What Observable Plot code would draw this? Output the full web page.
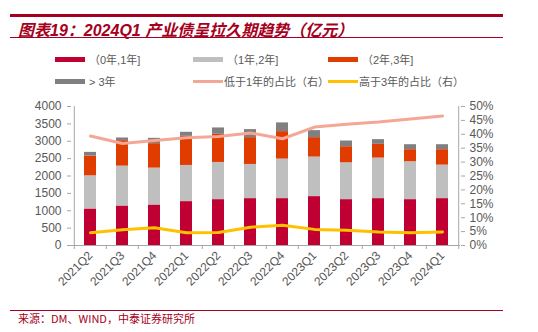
<!DOCTYPE html>
<html>
<head>
<meta charset="utf-8">
<script src="https://cdn.jsdelivr.net/npm/d3@7"></script>
<script src="https://cdn.jsdelivr.net/npm/@observablehq/plot@0.6"></script>
<style>
  html, body { margin: 0; padding: 0; background: #fff; }
  body { width: 538px; height: 332px; position: relative; overflow: hidden;
         font-family: "Liberation Sans", "Noto Sans CJK SC", sans-serif; }
  .rule-top { position: absolute; left: 10px; width: 493px; top: 14px; height: 3px; background: #A50021; }
  .title { position: absolute; left: 18px; top: 17px; font-size: 16px; font-weight: bold; font-style: italic;
           color: #A50021; font-family: "Liberation Sans", "Noto Sans CJK SC", sans-serif; white-space: nowrap; }
  .rule-mid { position: absolute; left: 10px; width: 493px; top: 37px; height: 1px; background: #A50021; }
  .leg { position: absolute; font-size: 11px; color: #595959; white-space: nowrap;
         font-family: "Liberation Sans", "Noto Sans CJK SC", sans-serif; }
  .sw { position: absolute; width: 30px; height: 5px; }
  .ln { position: absolute; width: 30px; height: 3px; }
  #chart { position: absolute; left: 0; top: 96px; }
  .rule-bot { position: absolute; left: 10px; width: 493px; top: 310px; height: 1px; background: #A50021; }
  .src { position: absolute; left: 18px; top: 310px; font-size: 11px; color: #A50021; white-space: nowrap;
         font-family: "Noto Sans CJK SC", sans-serif; }
</style>
</head>
<body>
<div class="rule-top"></div>
<div class="title">图表19：2024Q1 产业债呈拉久期趋势（亿元）</div>
<div class="rule-mid"></div>
<div id="legend"></div>
<div id="chart"></div>
<div class="rule-bot"></div>
<div class="src">来源：DM、WIND，中泰证券研究所</div>
<script>
const quarters = ["2021Q2","2021Q3","2021Q4","2022Q1","2022Q2","2022Q3","2022Q4","2023Q1","2023Q2","2023Q3","2023Q4","2024Q1"];
const seriesNames = ["（0年,1年]", "（1年,2年]", "（2年,3年]", "> 3年"];
const s0to1 = [1051, 1137, 1166, 1263, 1320, 1349, 1349, 1407, 1320, 1349, 1320, 1349];
const s1to2 = [954, 1147, 1061, 1041, 1070, 983, 1138, 1138, 1061, 1167, 1090, 964];
const s2to3 = [568, 733, 703, 838, 810, 772, 790, 559, 462, 395, 347, 444];
const sOver3 = [107, 77, 154, 116, 183, 231, 251, 202, 164, 135, 144, 144];
const lineNames = ["低于1年的占比（右）", "高于3年的占比（右）"];
const shareBelow1 = [39.4, 36.7, 37.8, 38.8, 39.2, 40.5, 38.4, 42.6, 43.6, 44.4, 45.5, 46.6];
const shareAbove3 = [4.6, 5.7, 6.4, 4.6, 4.7, 6.6, 7.3, 5.8, 5.5, 4.9, 4.6, 4.9];
const leftTicks = [0, 500, 1000, 1500, 2000, 2500, 3000, 3500, 4000];
const rightTicks = [0, 5, 10, 15, 20, 25, 30, 35, 40, 45, 50];

const barColors = ["#C00032", "#BFBFBF", "#E03C00", "#808080"];
const lineColors = ["#F4A796", "#FFC000"];

// legend
const legend = document.getElementById("legend");
const legItems = [
  {t: seriesNames[0], c: barColors[0], x: 55, y: 59, bar: true},
  {t: seriesNames[1], c: barColors[1], x: 193, y: 59, bar: true},
  {t: seriesNames[2], c: barColors[2], x: 328, y: 59, bar: true},
  {t: seriesNames[3], c: barColors[3], x: 55, y: 81, bar: true},
  {t: lineNames[0], c: lineColors[0], x: 193, y: 81, bar: false},
  {t: lineNames[1], c: lineColors[1], x: 328, y: 81, bar: false}
];
for (const it of legItems) {
  const sw = document.createElement("div");
  sw.className = it.bar ? "sw" : "ln";
  sw.style.left = it.x + "px";
  sw.style.top = (it.y - (it.bar ? 2.5 : 1.5)) + "px";
  sw.style.background = it.c;
  legend.appendChild(sw);
  const tx = document.createElement("div");
  tx.className = "leg";
  tx.textContent = it.t;
  tx.style.left = (it.x + (it.bar ? 34 : 31)) + "px";
  tx.style.top = (it.y - 8) + "px";
  legend.appendChild(tx);
}

const rows = [];
const segs = [s0to1, s1to2, s2to3, sOver3];
quarters.forEach((q, i) => {
  seriesNames.forEach((s, j) => rows.push({q, s, v: segs[j][i]}));
});
const below = quarters.map((q, i) => ({q, p: shareBelow1[i]}));
const above = quarters.map((q, i) => ({q, p: shareAbove3[i]}));
const k = 4000 / 50; // percent -> left units

const width = 538, mL = 71, mR = 78;
const step = (width - mL - mR) / quarters.length;

const chart = Plot.plot({
  width, height: 205,
  marginLeft: mL, marginRight: mR, marginTop: 10, marginBottom: 56,
  style: {fontFamily: "Liberation Sans, Arial, sans-serif", fontSize: "12px", color: "#595959", background: "transparent"},
  x: {domain: quarters, paddingInner: 0.63, paddingOuter: 0.315, label: null},
  y: {domain: [0, 4000], label: null},
  color: {domain: seriesNames, range: barColors},
  marks: [
    Plot.barY(rows, {x: "q", y: "v", fill: "s"}),
    Plot.line(below, {x: "q", y: d => d.p * k, stroke: lineColors[0], strokeWidth: 3}),
    Plot.line(above, {x: "q", y: d => d.p * k, stroke: lineColors[1], strokeWidth: 3}),
    Plot.ruleY([0], {stroke: "#A6A6A6"}),
    Plot.ruleX(quarters, {x: d => d, y1: 0, y2: 0, insetBottom: -4, dx: -step / 2, stroke: "#A6A6A6"}),
    Plot.ruleX(quarters.slice(-1), {x: d => d, y1: 0, y2: 0, insetBottom: -4, dx: step / 2, stroke: "#A6A6A6"}),
    Plot.ruleX(quarters.slice(0, 1), {x: d => d, y1: 0, y2: 4000, dx: -step / 2, stroke: "#A6A6A6"}),
    Plot.ruleX(quarters.slice(-1), {x: d => d, y1: 0, y2: 4000, dx: step / 2, stroke: "#A6A6A6"}),
    Plot.axisY(leftTicks, {anchor: "left", tickSize: 4, tickPadding: 6, stroke: "#A6A6A6", fill: "#595959",
      tickFormat: d => String(d), label: null}),
    Plot.axisY(rightTicks.map(t => t * k), {anchor: "right", tickSize: 4, tickPadding: 5, stroke: "#A6A6A6", fill: "#595959",
      tickFormat: d => Math.round(d / k) + "%", label: null}),
    Plot.axisX({tickRotate: -45, tickSize: 0, tickPadding: 8, fill: "#595959", label: null})
  ]
});
document.getElementById("chart").appendChild(chart);
</script>
</body>
</html>
